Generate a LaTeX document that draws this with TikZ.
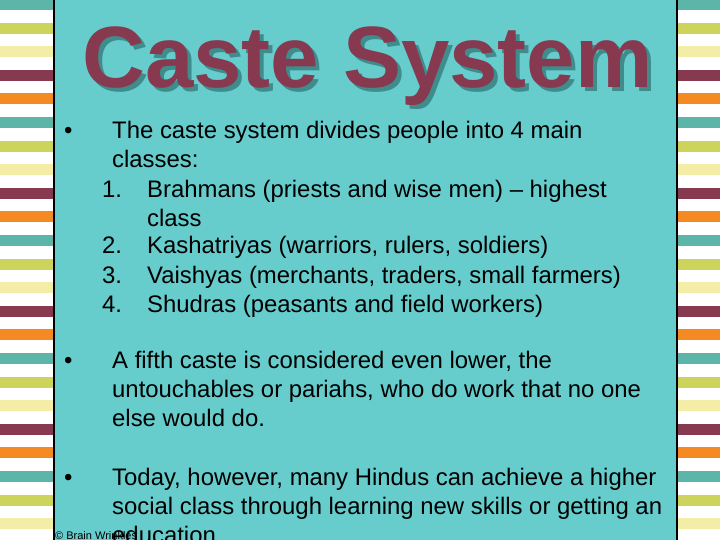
\documentclass[tikz,border=0pt]{standalone}
\usepackage{fontspec}
\setmainfont{Liberation Sans}
\definecolor{tealbg}{HTML}{66CCCC}
\definecolor{st1}{HTML}{5BB5A8}
\definecolor{st2}{HTML}{CCD45C}
\definecolor{st3}{HTML}{F3EDA8}
\definecolor{st4}{HTML}{86394F}
\definecolor{st5}{HTML}{F58A23}
\definecolor{titlec}{HTML}{86394F}
\definecolor{shadowc}{HTML}{3E8C8C}
\tikzset{line/.style={anchor=base west,inner sep=0pt,font=\fontsize{23.9}{26}\selectfont},
 foot/.style={anchor=base west,inner sep=0pt,font=\fontsize{11}{12}\selectfont}}
\begin{document}
\begin{tikzpicture}[x=1pt,y=-1pt]
\useasboundingbox (0,0) rectangle (720,540);
\clip (0,0) rectangle (720,540);
\fill[white] (0,0) rectangle (720,540);
\foreach \i in {0,...,23}{
  \pgfmathtruncatemacro\k{mod(\i,5)+1}
  \fill[st\k] (0,{\i*23.6-1}) rectangle (53,{\i*23.6+10});
  \fill[st\k] (677,{\i*23.6-1}) rectangle (720,{\i*23.6+10});
}
\fill[tealbg] (55,0) rectangle (676,540);
\draw[line width=2.5pt] (54,0) -- (54,540);
\draw[line width=2.5pt] (677,0) -- (677,540);
\node[anchor=base west,inner sep=0pt,text=shadowc,font=\fontsize{87}{90}\selectfont\bfseries] (sh) at (86,92) {Caste System};
\node[anchor=base west,inner sep=0pt,text=titlec,font=\fontsize{87}{90}\selectfont\bfseries] (title) at (82,88) {Caste System};
\node[line] (b1) at (64,139) {\textbullet};
\node[line] (l1) at (112,139) {The caste system divides people into 4 main};
\node[line] (l2) at (112,168) {classes:};
\node[line] (n1) at (102,197) {1.};
\node[line] (l3) at (147,197) {Brahmans (priests and wise men) – highest};
\node[line] (l4) at (147,226) {class};
\node[line] (n2) at (102,254) {2.};
\node[line] (l5) at (147,254) {Kashatriyas (warriors, rulers, soldiers)};
\node[line] (n3) at (102,283) {3.};
\node[line] (l6) at (147,283) {Vaishyas (merchants, traders, small farmers)};
\node[line] (n4) at (102,312) {4.};
\node[line] (l7) at (147,312) {Shudras (peasants and field workers)};
\node[line] (b2) at (64,368) {\textbullet};
\node[line] (l8) at (112,368) {A fifth caste is considered even lower, the};
\node[line] (l9) at (112,397) {untouchables or pariahs, who do work that no one};
\node[line] (l10) at (112,426) {else would do.};
\node[line] (b3) at (64,485) {\textbullet};
\node[line] (l11) at (112,485) {Today, however, many Hindus can achieve a higher};
\node[line] (l12) at (112,514) {social class through learning new skills or getting an};
\node[line] (l13) at (112,543) {education};
\node[foot] (ft) at (55,539) {© Brain Wrinkles};
\end{tikzpicture}
\end{document}
